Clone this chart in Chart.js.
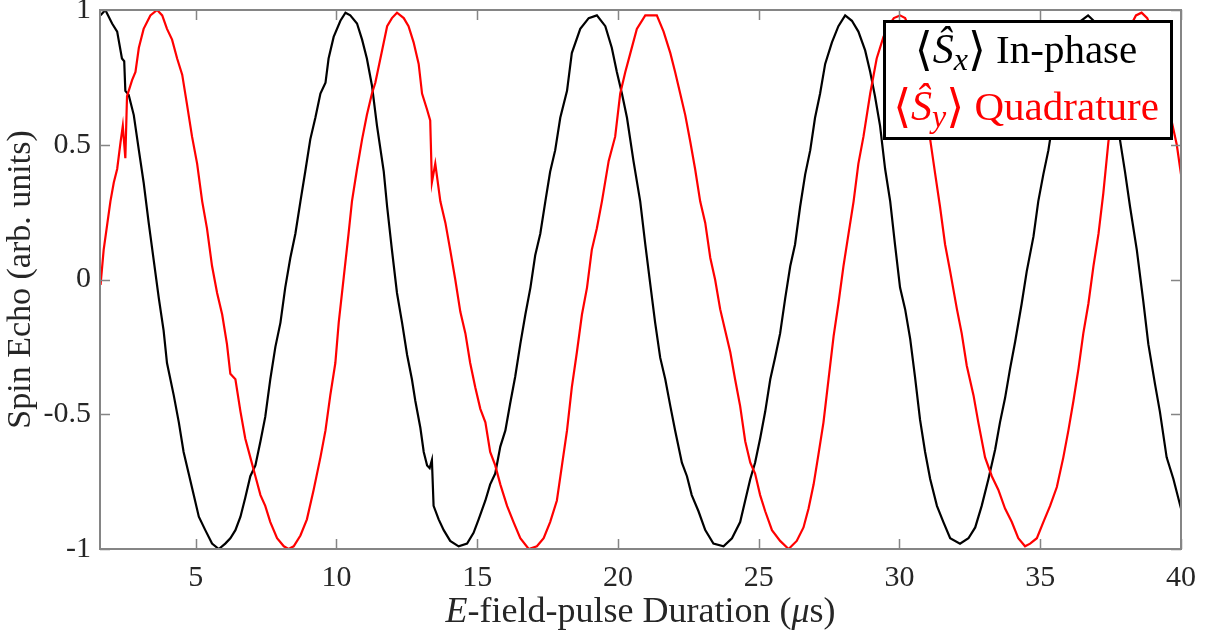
<!DOCTYPE html>
<html><head><meta charset="utf-8">
<script src="https://cdn.jsdelivr.net/npm/chart.js@4"></script>
<style>
html,body{margin:0;padding:0;background:#fff;}
#c{display:block;}
</style></head>
<body>
<canvas id="c" width="1212" height="635"></canvas>
<script>
// ---- data ----
const xTicks = [5, 10, 15, 20, 25, 30, 35, 40];
const yTicks = [-1, -0.5, 0, 0.5, 1];
const yTickLabels = ['-1', '-0.5', '0', '0.5', '1'];
const xTitleParts = [['E', true], ['-field-pulse Duration (', false], ['μ', true], ['s)', false]];
const yTitle = 'Spin Echo (arb. units)';
const legendRows = [
  { sub: 'x', text: ' In-phase', color: '#000000' },
  { sub: 'y', text: ' Quadrature', color: '#ff0000' }
];

const sxTime = [1.62,1.79,2.03,2.21,2.38,2.46,2.50,2.62,2.80,2.98,3.15,3.33,3.51,3.69,3.86,3.98,4.22,4.40,4.57,4.75,4.93,5.11,5.34,5.58,5.82,6.05,6.23,6.41,6.59,6.76,6.94,7.12,7.30,7.47,7.65,7.83,8.01,8.18,8.36,8.54,8.72,8.89,9.07,9.25,9.43,9.61,9.72,9.90,10.14,10.32,10.49,10.73,10.91,11.08,11.26,11.44,11.68,11.80,11.97,12.15,12.33,12.51,12.68,12.80,12.98,13.10,13.22,13.31,13.39,13.45,13.63,13.81,14.04,14.34,14.64,14.87,15.05,15.29,15.46,15.64,15.82,16.00,16.17,16.35,16.53,16.71,16.89,17.06,17.24,17.42,17.59,17.77,17.95,18.19,18.36,18.66,18.96,19.25,19.55,19.78,19.96,20.14,20.32,20.55,20.79,20.97,21.15,21.32,21.50,21.68,21.86,22.03,22.27,22.45,22.62,22.86,23.10,23.39,23.75,24.05,24.34,24.52,24.70,24.87,25.05,25.23,25.41,25.58,25.76,25.94,26.12,26.29,26.47,26.65,26.83,27.00,27.18,27.36,27.60,27.83,28.07,28.31,28.54,28.78,28.96,29.13,29.31,29.49,29.67,29.84,30.02,30.20,30.38,30.55,30.73,30.91,31.09,31.33,31.56,31.80,32.15,32.45,32.69,32.92,33.16,33.40,33.57,33.75,33.93,34.11,34.34,34.52,34.76,34.93,35.11,35.29,35.47,35.65,35.85,36.05,36.25,36.45,36.70,36.90,37.10,37.30,37.50,37.70,37.83,38.01,38.19,38.43,38.66,38.84,39.08,39.25,39.49,39.73,40.00];
const sxValue = [0.98,1.00,0.95,0.92,0.82,0.81,0.70,0.685,0.61,0.48,0.36,0.21,0.07,-0.07,-0.19,-0.31,-0.43,-0.53,-0.64,-0.72,-0.80,-0.88,-0.93,-0.98,-1.00,-0.98,-0.96,-0.93,-0.88,-0.81,-0.73,-0.69,-0.60,-0.51,-0.37,-0.25,-0.16,-0.03,0.08,0.17,0.29,0.40,0.52,0.60,0.69,0.73,0.82,0.90,0.96,0.99,0.98,0.95,0.89,0.82,0.72,0.57,0.40,0.27,0.11,-0.05,-0.16,-0.28,-0.37,-0.45,-0.55,-0.64,-0.69,-0.70,-0.67,-0.84,-0.89,-0.93,-0.97,-0.99,-0.98,-0.94,-0.89,-0.82,-0.76,-0.72,-0.62,-0.56,-0.46,-0.36,-0.24,-0.13,-0.03,0.09,0.17,0.29,0.40,0.48,0.60,0.70,0.84,0.93,0.97,0.98,0.94,0.86,0.77,0.69,0.60,0.44,0.29,0.13,-0.02,-0.16,-0.29,-0.37,-0.47,-0.56,-0.68,-0.73,-0.80,-0.86,-0.93,-0.98,-0.99,-0.96,-0.90,-0.82,-0.74,-0.68,-0.59,-0.49,-0.37,-0.29,-0.20,-0.07,0.05,0.13,0.27,0.39,0.48,0.60,0.69,0.80,0.88,0.94,0.98,0.96,0.92,0.85,0.77,0.68,0.57,0.41,0.29,0.13,-0.03,-0.11,-0.22,-0.36,-0.52,-0.64,-0.74,-0.84,-0.90,-0.96,-0.98,-0.96,-0.92,-0.84,-0.74,-0.63,-0.53,-0.44,-0.33,-0.23,-0.09,0.03,0.16,0.29,0.39,0.48,0.60,0.68,0.78,0.86,0.92,0.96,0.98,0.96,0.91,0.83,0.72,0.60,0.52,0.40,0.27,0.11,-0.08,-0.24,-0.39,-0.49,-0.66,-0.74,-0.85];

const syTime = [1.62,1.73,1.85,1.97,2.09,2.21,2.33,2.41,2.50,2.56,2.74,2.86,2.98,3.15,3.39,3.63,3.81,3.98,4.16,4.34,4.52,4.69,4.87,5.05,5.23,5.40,5.58,5.76,5.94,6.11,6.23,6.41,6.59,6.76,6.94,7.12,7.30,7.47,7.65,7.89,8.13,8.30,8.48,8.72,8.95,9.19,9.43,9.61,9.78,9.96,10.08,10.26,10.43,10.55,10.73,10.91,11.08,11.26,11.38,11.62,11.80,11.97,12.15,12.39,12.56,12.74,12.92,13.04,13.22,13.33,13.39,13.51,13.69,13.87,14.04,14.22,14.40,14.58,14.75,14.93,15.11,15.29,15.46,15.64,15.82,16.06,16.29,16.53,16.83,17.12,17.36,17.59,17.83,18.01,18.19,18.36,18.54,18.72,18.90,19.07,19.25,19.43,19.67,19.90,20.08,20.26,20.44,20.67,20.97,21.15,21.38,21.62,21.86,22.03,22.21,22.39,22.57,22.74,22.92,23.10,23.28,23.45,23.63,23.81,23.99,24.16,24.34,24.52,24.70,24.87,25.05,25.23,25.47,25.76,26.06,26.35,26.59,26.77,26.95,27.12,27.30,27.48,27.66,27.83,28.01,28.19,28.37,28.54,28.72,28.96,29.19,29.43,29.60,29.80,30.02,30.20,30.40,30.60,30.80,31.00,31.09,31.27,31.44,31.62,31.80,32.04,32.21,32.39,32.63,32.80,33.04,33.28,33.51,33.75,33.99,34.22,34.46,34.64,34.88,35.11,35.35,35.59,35.82,36.00,36.18,36.36,36.53,36.71,36.89,37.07,37.24,37.42,37.60,37.80,38.00,38.20,38.40,38.60,38.80,39.00,39.20,39.40,39.60,39.85,40.00];
const syValue = [-0.02,0.11,0.20,0.29,0.36,0.41,0.51,0.57,0.45,0.68,0.74,0.77,0.86,0.93,0.98,1.00,0.98,0.93,0.89,0.82,0.76,0.65,0.53,0.43,0.29,0.19,0.05,-0.05,-0.13,-0.24,-0.35,-0.37,-0.49,-0.59,-0.66,-0.73,-0.80,-0.84,-0.90,-0.96,-0.99,-1.00,-0.99,-0.95,-0.89,-0.78,-0.66,-0.56,-0.43,-0.31,-0.16,0.01,0.17,0.29,0.41,0.52,0.61,0.69,0.73,0.85,0.94,0.97,0.99,0.97,0.94,0.88,0.80,0.69,0.63,0.59,0.36,0.43,0.29,0.21,0.11,0.00,-0.12,-0.20,-0.31,-0.40,-0.48,-0.53,-0.64,-0.69,-0.76,-0.84,-0.90,-0.96,-1.00,-0.99,-0.96,-0.90,-0.82,-0.69,-0.56,-0.40,-0.27,-0.13,-0.03,0.11,0.19,0.29,0.44,0.53,0.69,0.77,0.84,0.93,0.98,0.98,0.98,0.92,0.84,0.77,0.69,0.61,0.51,0.41,0.29,0.21,0.08,0.00,-0.11,-0.19,-0.27,-0.37,-0.47,-0.60,-0.68,-0.72,-0.80,-0.86,-0.93,-0.97,-1.00,-0.97,-0.92,-0.85,-0.76,-0.65,-0.53,-0.37,-0.21,-0.09,0.05,0.17,0.29,0.43,0.53,0.69,0.82,0.90,0.94,0.97,0.98,0.97,0.92,0.83,0.72,0.58,0.52,0.39,0.27,0.13,0.03,-0.11,-0.20,-0.32,-0.43,-0.53,-0.66,-0.73,-0.78,-0.85,-0.90,-0.96,-0.99,-0.98,-0.96,-0.90,-0.84,-0.77,-0.66,-0.56,-0.45,-0.33,-0.20,-0.09,0.05,0.17,0.32,0.51,0.65,0.78,0.88,0.94,0.98,0.99,0.97,0.92,0.84,0.74,0.62,0.50,0.39];

const SERIF = '"Liberation Serif", "Times New Roman", serif';

const frame = {
  id: 'frame',
  afterDatasetsDraw(chart) {
    const {ctx, chartArea: a, scales: {x, y}} = chart;
    ctx.save();
    ctx.strokeStyle = '#858585';
    ctx.lineWidth = 1.5;
    ctx.beginPath();
    x.ticks.forEach(t => {
      const p = Math.round(x.getPixelForValue(t.value)) + 0.5;
      ctx.moveTo(p, a.bottom); ctx.lineTo(p, a.bottom - 10);
      ctx.moveTo(p, a.top); ctx.lineTo(p, a.top + 10);
    });
    y.ticks.forEach(t => {
      const p = Math.round(y.getPixelForValue(t.value)) + 0.5;
      ctx.moveTo(a.left, p); ctx.lineTo(a.left + 10, p);
      ctx.moveTo(a.right, p); ctx.lineTo(a.right - 10, p);
    });
    ctx.stroke();
    ctx.lineWidth = 2;
    ctx.strokeRect(a.left, a.top, a.right - a.left, a.bottom - a.top);
    ctx.restore();
  },
  afterDraw(chart) {
    const {ctx, chartArea: a} = chart;
    ctx.save();
    ctx.textBaseline = 'alphabetic';
    ctx.textAlign = 'left';
    // x-axis title (E and mu in italic)
    const fonts = it => (it ? 'italic ' : '') + '36px ' + SERIF;
    let total = 0;
    xTitleParts.forEach(([s, it]) => { ctx.font = fonts(it); total += ctx.measureText(s).width; });
    let cx = (a.left + a.right) / 2 - total / 2;
    ctx.fillStyle = '#262626';
    xTitleParts.forEach(([s, it]) => { ctx.font = fonts(it); ctx.fillText(s, cx, a.bottom + 73); cx += ctx.measureText(s).width; });

    // legend box
    const L = a.right - 298, T = a.top + 10, W = 290, H = 120;
    ctx.fillStyle = '#ffffff';
    ctx.fillRect(L, T, W, H);
    ctx.strokeStyle = '#000000';
    ctx.lineWidth = 3;
    ctx.strokeRect(L + 1.5, T + 1.5, W - 3, H - 3);
    const brFont = '46px "DejaVu Sans", sans-serif';
    const sFont = 'italic 42px ' + SERIF;
    const subFont = 'italic 32px ' + SERIF;
    const txtFont = '41px ' + SERIF;
    legendRows.forEach((r, i) => {
      const base = T + 43 + i * 57;
      const parts = [
        ['⟨', brFont, 2], ['Ŝ', sFont, 0], [r.sub, subFont, 7], ['⟩', brFont, 2], [r.text, txtFont, 0]
      ];
      let w = 0;
      parts.forEach(p => { ctx.font = p[1]; w += ctx.measureText(p[0]).width; });
      let px = L + W / 2 - w / 2 - 2;
      ctx.fillStyle = r.color;
      parts.forEach(p => { ctx.font = p[1]; ctx.fillText(p[0], px, base + p[2]); px += ctx.measureText(p[0]).width; });
    });
    ctx.restore();
  }
};

new Chart(document.getElementById('c'), {
  type: 'line',
  data: {
    datasets: [
      { label: 'Sx In-phase', data: sxTime.map((t, i) => ({x: t, y: sxValue[i]})), borderColor: '#000000', borderWidth: 2.2, pointRadius: 0, tension: 0, fill: false, order: 1 },
      { label: 'Sy Quadrature', data: syTime.map((t, i) => ({x: t, y: syValue[i]})), borderColor: '#ff0000', borderWidth: 2.2, pointRadius: 0, tension: 0, fill: false, order: 0 }
    ]
  },
  options: {
    responsive: false,
    animation: false,
    layout: { padding: { left: 0, right: 31, top: 10, bottom: 0 } },
    plugins: { legend: { display: false }, tooltip: { enabled: false } },
    scales: {
      x: {
        type: 'linear', min: 1.6, max: 40,
        afterBuildTicks: s => { s.ticks = xTicks.map(v => ({value: v})); },
        afterFit: s => { s.height = 86; s.paddingLeft = 0; s.paddingRight = 0; },
        grid: { display: false, drawTicks: false },
        border: { display: false },
        ticks: { font: { family: SERIF, size: 30 }, color: '#262626', padding: 11, maxRotation: 0, autoSkip: false, callback: v => String(v) }
      },
      y: {
        type: 'linear', min: -1, max: 1,
        afterBuildTicks: s => { s.ticks = yTicks.map(v => ({value: v})); },
        afterFit: s => { s.width = 100; s.paddingTop = 0; s.paddingBottom = 0; },
        grid: { display: false, drawTicks: false },
        border: { display: false },
        ticks: { font: { family: SERIF, size: 30 }, color: '#262626', padding: 9, autoSkip: false, callback: v => yTickLabels[yTicks.indexOf(v)] },
        title: { display: true, text: yTitle, font: { family: SERIF, size: 34 }, color: '#262626', padding: { top: 1, bottom: 0 } }
      }
    }
  },
  plugins: [frame]
});
</script>
</body></html>
